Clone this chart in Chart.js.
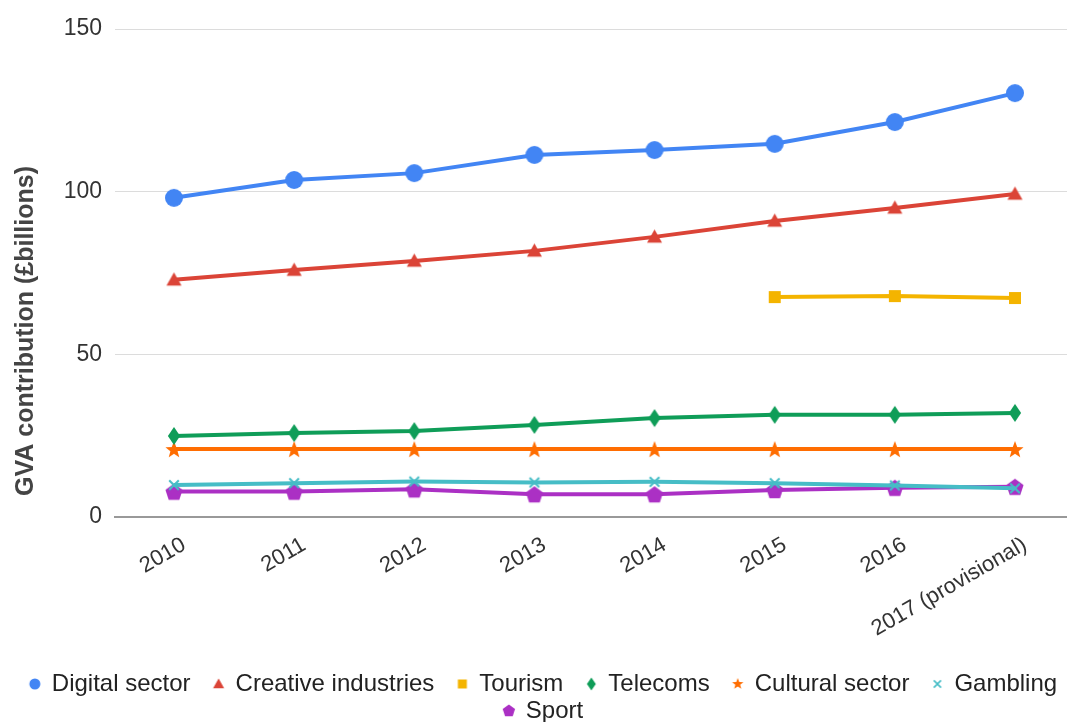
<!DOCTYPE html>
<html>
<head>
<meta charset="utf-8">
<script src="https://cdn.jsdelivr.net/npm/chart.js@4"></script>
<style>
  html, body { margin: 0; padding: 0; background: #fff; }
  #wrap { width: 1067px; height: 722px; }
</style>
</head>
<body>
<div id="wrap"><canvas id="gva-chart"></canvas></div>
<script>
// GVA contribution by sector
const years = ['2010', '2011', '2012', '2013', '2014', '2015', '2016', '2017 (provisional)'];
const yTicks = [0, 50, 100, 150];
const yTitle = 'GVA contribution (£billions)';

const digital   = [98.1, 103.6, 105.7, 111.3, 112.8, 114.7, 121.4, 130.3];
const creative  = [72.9, 75.9, 78.7, 81.8, 86.1, 91.0, 95.0, 99.3];
const tourism   = [null, null, null, null, null, 67.6, 67.9, 67.3];
const telecoms  = [24.9, 25.8, 26.4, 28.3, 30.4, 31.4, 31.4, 32.0];
const cultural  = [20.9, 20.9, 20.9, 20.9, 20.9, 20.9, 20.9, 20.9];
const gambling  = [9.8, 10.4, 10.9, 10.6, 10.8, 10.4, 9.7, 8.8];
const sport     = [7.8, 7.8, 8.5, 7.0, 7.0, 8.3, 9.0, 9.3];

const FONT = "'Liberation Sans', Arial, sans-serif";

const colors = {
  digital: '#4285F4',
  creative: '#DB4437',
  tourism: '#F4B400',
  telecoms: '#0F9D58',
  cultural: '#FF6D01',
  gambling: '#46BDC6',
  sport: '#AB30C4',
};

// Draws a marker shape into ctx centred on (cx, cy) with size s
function drawShape(ctx, kind, color, cx, cy, s) {
  ctx.fillStyle = color;
  ctx.strokeStyle = color;
  ctx.beginPath();
  if (kind === 'circle') {
    ctx.arc(cx, cy, s, 0, Math.PI * 2);
  } else if (kind === 'triangle') {
    ctx.moveTo(cx, cy - s); ctx.lineTo(cx + s, cy + s * 0.75); ctx.lineTo(cx - s, cy + s * 0.75);
  } else if (kind === 'square') {
    ctx.rect(cx - s, cy - s, 2 * s, 2 * s);
  } else if (kind === 'diamond') {
    ctx.moveTo(cx, cy - s); ctx.lineTo(cx + s * 0.68, cy); ctx.lineTo(cx, cy + s); ctx.lineTo(cx - s * 0.68, cy);
  } else if (kind === 'star') {
    for (let i = 0; i < 10; i++) {
      const r = i % 2 === 0 ? s : s * 0.42;
      const a = -Math.PI / 2 + i * Math.PI / 5;
      ctx.lineTo(cx + r * Math.cos(a), cy + r * Math.sin(a));
    }
  } else if (kind === 'pentagon') {
    for (let i = 0; i < 5; i++) {
      const a = -Math.PI / 2 + i * 2 * Math.PI / 5;
      ctx.lineTo(cx + s * Math.cos(a), cy + s * Math.sin(a));
    }
  } else if (kind === 'cross') {
    const d = s * 0.8;
    ctx.lineWidth = Math.max(1.5, s * 0.35);
    ctx.moveTo(cx - d, cy - d); ctx.lineTo(cx + d, cy + d);
    ctx.moveTo(cx + d, cy - d); ctx.lineTo(cx - d, cy + d);
    ctx.stroke();
    return;
  }
  ctx.closePath();
  ctx.fill();
}

// Point marker image, centred
function marker(kind, color, s) {
  const c = document.createElement('canvas');
  c.width = Math.ceil(2 * s + 4); c.height = Math.ceil(2 * s + 4);
  drawShape(c.getContext('2d'), kind, color, c.width / 2, c.height / 2 + (kind === 'star' || kind === 'pentagon' ? 1 : 0), s);
  return c;
}

// Legend marker image, marker sits near the right of the legend box
function legendMarker(kind, color, s) {
  const c = document.createElement('canvas');
  c.width = 40; c.height = 16;
  drawShape(c.getContext('2d'), kind, color, 30, 8, s);
  return c;
}

function series(label, data, color, kind, size, legendSize) {
  return {
    label: label,
    data: data.map((v, i) => ({ x: i, y: v })),
    borderColor: color,
    backgroundColor: color,
    borderWidth: 4,
    pointStyle: marker(kind, color, size),
    pointRadius: size,
    pointHoverRadius: size,
    tension: 0,
    legendImage: legendMarker(kind, color, legendSize),
  };
}

const datasets = [
  series('Digital sector', digital, colors.digital, 'circle', 9, 5.5),
  series('Creative industries', creative, colors.creative, 'triangle', 7.5, 5.5),
  series('Tourism', tourism, colors.tourism, 'square', 6, 4.5),
  series('Telecoms', telecoms, colors.telecoms, 'diamond', 9, 6.5),
  series('Cultural sector', cultural, colors.cultural, 'star', 9, 6),
  series('Gambling', gambling, colors.gambling, 'cross', 6, 4.5),
  series('Sport', sport, colors.sport, 'pentagon', 9, 6.5),
];

// nudge the legend down a little
const legendNudge = {
  id: 'legendNudge',
  afterLayout(chart) {
    const lg = chart.legend;
    if (lg) { lg.top += 11; lg.bottom += 11; }
  },
};

// y axis title, sits a bit below the middle of the plot like the original
const yTitlePlugin = {
  id: 'yTitlePlugin',
  afterDraw(chart) {
    const c = chart.ctx;
    c.save();
    c.translate(26, 331);
    c.rotate(-Math.PI / 2);
    c.font = "bold 25px " + FONT;
    c.fillStyle = '#444';
    c.textAlign = 'center';
    c.textBaseline = 'middle';
    c.fillText(yTitle, 0, 0);
    c.restore();
  },
};

const ctx = document.getElementById('gva-chart').getContext('2d');
new Chart(ctx, {
  type: 'line',
  data: { datasets: datasets },
  plugins: [legendNudge, yTitlePlugin],
  options: {
    responsive: true,
    maintainAspectRatio: false,
    animation: false,
    layout: { autoPadding: false, padding: { top: 29, right: 0, left: 0, bottom: 0 } },
    plugins: {
      legend: {
        position: 'bottom',
        labels: {
          usePointStyle: true,
          pointStyleWidth: 30,
          boxHeight: 12,
          padding: 3,
          color: '#222',
          font: { family: FONT, size: 24 },
          generateLabels: (chart) => chart.data.datasets.map((ds, i) => ({
            text: ds.label,
            fillStyle: ds.backgroundColor,
            strokeStyle: ds.borderColor,
            lineWidth: 0,
            pointStyle: ds.legendImage,
            fontColor: '#222',
            hidden: false,
            datasetIndex: i,
          })),
        },
      },
      tooltip: { enabled: false },
    },
    scales: {
      x: {
        type: 'linear',
        min: -0.491,
        max: 7.433,
        afterBuildTicks: (scale) => {
          scale.ticks = years.map((_, i) => ({ value: i }));
        },
        afterFit: (scale) => {
          scale.height = 141;
          scale.paddingRight = 0;
          scale.paddingLeft = 0;
        },
        ticks: {
          autoSkip: false,
          minRotation: 30,
          maxRotation: 30,
          padding: 15,
          labelOffset: 10,
          color: '#333',
          font: { family: FONT, size: 22 },
          callback: (value) => years[value],
        },
        grid: { display: false, drawTicks: false },
        border: { display: true, color: '#999', width: 2 },
      },
      y: {
        min: 0,
        max: 150,
        afterBuildTicks: (scale) => {
          scale.ticks = yTicks.map(v => ({ value: v }));
        },
        afterFit: (scale) => { scale.width = 115; },
        ticks: {
          color: '#333',
          padding: 13,
          font: { family: FONT, size: 23 },
        },
        grid: { color: '#dcdcdc', drawTicks: false },
        border: { display: false },
      },
    },
  },
});
</script>
</body>
</html>
